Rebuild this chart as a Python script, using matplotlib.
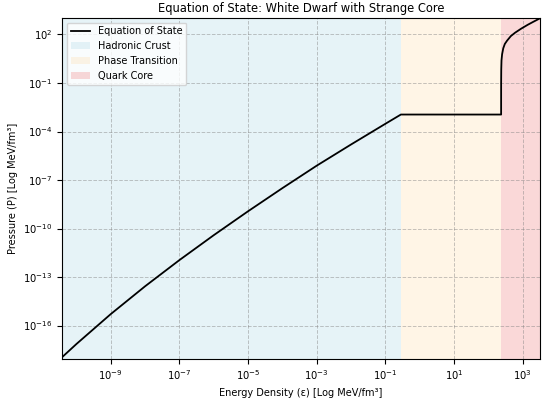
import matplotlib
matplotlib.use("Agg")
import matplotlib.pyplot as plt
from matplotlib.ticker import NullFormatter
import numpy as np

# --- data (log10 values) ---
hadron_log_eps = [-10.44, -10.0, -9.0, -8.0, -7.0, -6.0, -5.0, -4.0, -3.0, -2.0, -1.0, -0.55]
hadron_log_p   = [-18.0, -17.14, -15.29, -13.57, -11.95, -10.41, -8.93, -7.50, -6.11, -4.80, -3.52, -2.95]

plateau_eps = [0.28, 234.0]
plateau_p   = [1.12e-3, 1.12e-3]

quark_eps = [234.0, 234.3, 236, 240, 250, 270, 300, 350, 450, 600, 900, 1400, 2000, 3170]
quark_p   = [1.12e-3, 0.1, 0.7, 2.5, 6, 14, 26, 42, 80, 130, 230, 400, 600, 1000]

region_bounds = [3.8e-11, 0.28, 234.0, 3170.0]
region_labels = ["Hadronic Crust", "Phase Transition", "Quark Core"]
region_colors = ["lightblue", "navajowhite", "lightcoral"]
region_alpha = [0.3, 0.3, 0.3]

eps = np.concatenate([10.0 ** np.array(hadron_log_eps), plateau_eps[1:], quark_eps[1:]])
p = np.concatenate([10.0 ** np.array(hadron_log_p), plateau_p[1:], quark_p[1:]])

fig = plt.figure(figsize=(5.51, 4.01), dpi=100)
ax = fig.add_axes([0.1125, 0.105, 0.8675, 0.851])

ax.plot(eps, p, color="black", lw=1.3, label="Equation of State", zorder=3)
for i, lab in enumerate(region_labels):
    ax.axvspan(region_bounds[i], region_bounds[i + 1], color=region_colors[i],
               alpha=region_alpha[i], lw=0, label=lab, zorder=0)

ax.set_xscale("log")
ax.set_yscale("log")
ax.set_xlim(3.8e-11, 3170)
ax.set_ylim(8.7e-19, 1.1e3)
ax.xaxis.set_minor_formatter(NullFormatter())
ax.yaxis.set_minor_formatter(NullFormatter())
ax.grid(True, which="major", ls="--", color="gray", alpha=0.45, lw=0.7)
ax.tick_params(labelsize=7.2)

ax.set_title("Equation of State: White Dwarf with Strange Core", fontsize=8.3, pad=4)
ax.set_xlabel("Energy Density (ε) [Log MeV/fm³]", fontsize=7)
ax.set_ylabel("Pressure (P) [Log MeV/fm³]", fontsize=7)
ax.legend(loc="upper left", fontsize=7, framealpha=0.8)

fig.savefig("out.png", dpi=100)
